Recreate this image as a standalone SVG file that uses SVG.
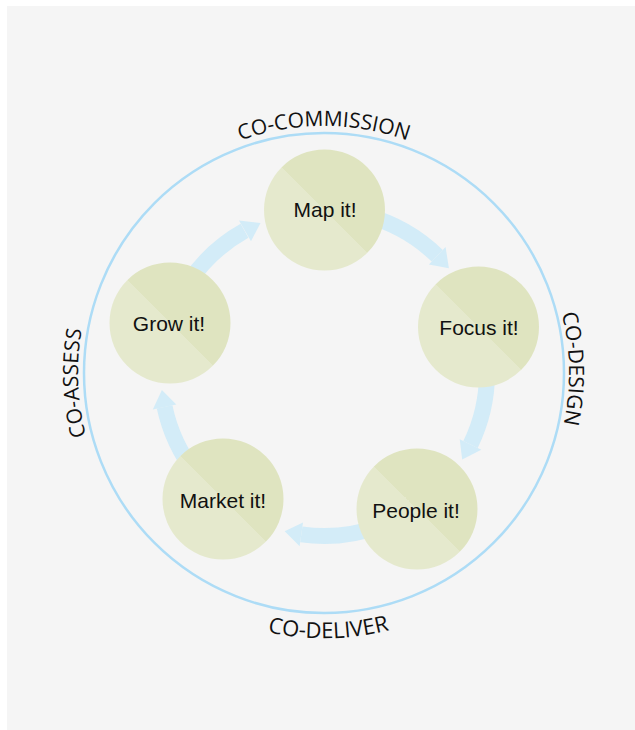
<svg xmlns="http://www.w3.org/2000/svg" width="635" height="730" viewBox="0 0 635 730">
<style>
.node{fill:url(#nodeFill)}
.nlabel{font-family:"Liberation Sans",Arial,sans-serif;font-size:21px;fill:#111;text-anchor:middle}
.clabel{font-family:"Open Sans","Noto Sans",sans-serif;font-size:21px;fill:#111;text-anchor:middle}
.arc{fill:none;stroke:#d3ecf8;stroke-width:16}
.head{fill:#d3ecf8}
</style>
<defs>
<linearGradient id="nodeFill" x1="0" y1="1" x2="1" y2="0">
<stop offset="0" stop-color="#e5e9cd"/>
<stop offset="0.5" stop-color="#e5e9cd"/>
<stop offset="0.5" stop-color="#dfe4c0"/>
<stop offset="1" stop-color="#dfe4c0"/>
</linearGradient>
<path id="pTop" d="M 91.9,288.5 A 247 247 0 0 1 556.1,288.5"/>
<path id="pRight" d="M 442.8,158.7 A 245 245 0 0 1 450.2,583"/>
<path id="pLeft" d="M 209.7,590.8 A 246 246 0 0 1 192.5,165.1"/>
<path id="pBottom" d="M 96.5,509.5 A 265.5 265.5 0 0 0 556.2,501.7"/>
</defs>
<rect x="7" y="6" width="628" height="724" fill="#f5f5f5"/>
<circle id="ring" cx="324" cy="373" r="240" fill="none" stroke="#addcf6" stroke-width="2.5"/>
<g id="ring-labels">
<text class="clabel"><textPath href="#pTop" startOffset="50%">CO-COMMISSION</textPath></text>
<text class="clabel"><textPath href="#pRight" startOffset="50%">CO-DESIGN</textPath></text>
<text class="clabel"><textPath href="#pLeft" startOffset="50%">CO-ASSESS</textPath></text>
<text class="clabel" style="font-size:22px"><textPath href="#pBottom" startOffset="50%">CO-DELIVER</textPath></text>
</g>
<g id="connectors">
<path class="arc" d="M 366.2,215.6 A 163 163 0 0 1 437.2,255.8"/>
<polygon class="head" points="445.6,247.1 448.9,268.2 428.9,264.4"/>
<path class="arc" d="M 487,373 A 163 163 0 0 1 470.5,444.5"/>
<polygon class="head" points="481.3,449.7 462.2,459.4 459.7,439.2"/>
<path class="arc" d="M 379.7,526.2 A 163 163 0 0 1 301.3,534.4"/>
<polygon class="head" points="303,522.5 284.6,531.2 299.6,546.3"/>
<path class="arc" d="M 195.6,473.4 A 163 163 0 0 1 164.6,406.9"/>
<polygon class="head" points="176.3,404.4 161.9,390 152.8,409.4"/>
<path class="arc" d="M 188.9,281.9 A 163 163 0 0 1 244.5,230.8"/>
<polygon class="head" points="239,220.5 260.5,222.9 251,241.3"/>
</g>
<g id="map"><circle class="node" cx="324.5" cy="210" r="60.5"/><text class="nlabel" x="325" y="217">Map it!</text></g>
<g id="focus"><circle class="node" cx="478.5" cy="327" r="60.5"/><text class="nlabel" x="479" y="335">Focus it!</text></g>
<g id="people"><circle class="node" cx="417" cy="509" r="60.5"/><text class="nlabel" x="416" y="518">People it!</text></g>
<g id="market"><circle class="node" cx="223" cy="499" r="60.5"/><text class="nlabel" x="223" y="508">Market it!</text></g>
<g id="grow"><circle class="node" cx="170" cy="323" r="60.5"/><text class="nlabel" x="169" y="331">Grow it!</text></g>
</svg>
